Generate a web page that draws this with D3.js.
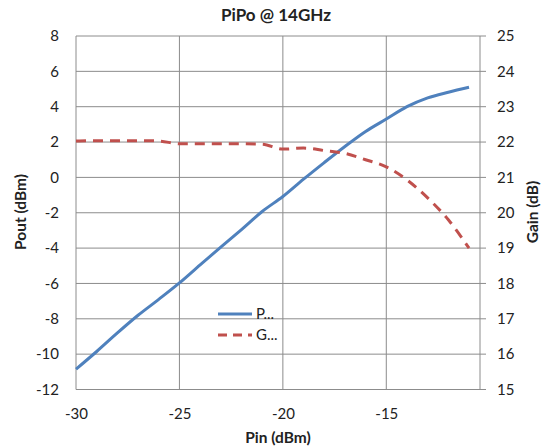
<!DOCTYPE html>
<html>
<head>
<meta charset="utf-8">
<script src="https://cdn.jsdelivr.net/npm/d3@7"></script>
<style>
  body { margin: 0; background: #fff; }
  svg text { font-family: Lato, "Open Sans", sans-serif; fill: #222; }
</style>
</head>
<body>
<svg id="chart" width="549" height="447"></svg>
<script>
// input power sweep (dBm)
const pin = [-30, -29, -28, -27, -26, -25, -24, -23, -22, -21, -20, -19, -18, -17, -16, -15, -14, -13, -12, -11];
const pout = [-10.85, -9.85, -8.8, -7.8, -6.9, -5.97, -4.95, -3.95, -2.95, -1.93, -1.08, -0.1, 0.84, 1.75, 2.6, 3.3, 4.0, 4.5, 4.82, 5.1];
const gain = [22.03, 22.04, 22.04, 22.04, 22.03, 21.95, 21.95, 21.95, 21.95, 21.94, 21.8, 21.83, 21.76, 21.68, 21.5, 21.3, 20.93, 20.42, 19.8, 19.0];

const xTicks = [-30, -25, -20, -15];
const yLeftTicks = [-12, -10, -8, -6, -4, -2, 0, 2, 4, 6, 8];
const yRightTicks = [15, 16, 17, 18, 19, 20, 21, 22, 23, 24, 25];
const legendNames = ['P...', 'G...'];

const mLeft = 76, mRight = 480, mTop = 36, mBottom = 389.5;
const svg = d3.select('#chart');

const x = d3.scaleLinear().domain([-30, -10.47]).range([mLeft, mRight]);
const yL = d3.scaleLinear().domain([-12, 8]).range([mBottom, mTop]);
const yR = d3.scaleLinear().domain([15, 25]).range([mBottom, mTop]);

const gridColor = '#8c8c8c';
const plain = d => String(d); // keep ascii hyphen like the original

// horizontal grid
svg.append('g').selectAll('line')
    .data(yLeftTicks)
    .join('line')
    .attr('x1', mLeft).attr('x2', mRight + 6)
    .attr('y1', d => yL(d)).attr('y2', d => yL(d))
    .attr('stroke', gridColor).attr('stroke-width', 1);

// vertical grid
svg.append('g').selectAll('line')
    .data(xTicks)
    .join('line')
    .attr('x1', d => x(d)).attr('x2', d => x(d))
    .attr('y1', mTop).attr('y2', mBottom)
    .attr('stroke', gridColor).attr('stroke-width', 1);

svg.append('line')
    .attr('x1', mRight).attr('x2', mRight)
    .attr('y1', mTop).attr('y2', mBottom)
    .attr('stroke', gridColor);

// axes (labels only)
const axLeft = svg.append('g')
    .attr('transform', `translate(${mLeft},0)`)
    .call(d3.axisLeft(yL).tickValues(yLeftTicks).tickFormat(plain).tickSize(0).tickPadding(17));
const axRight = svg.append('g')
    .attr('transform', `translate(${mRight},0)`)
    .call(d3.axisRight(yR).tickValues(yRightTicks).tickFormat(plain).tickSize(0).tickPadding(17));
const axBottom = svg.append('g')
    .attr('transform', `translate(0,${mBottom})`)
    .call(d3.axisBottom(x).tickValues(xTicks).tickFormat(plain).tickSize(0).tickPadding(19));

[axLeft, axRight, axBottom].forEach(g => {
    g.select('.domain').remove();
    g.selectAll('text').style('font-size', '15px').attr('fill', '#222');
});

// series
const powerLine = d3.line().x((d, i) => x(pin[i])).y(d => yL(d)).curve(d3.curveMonotoneX);
const gainLine = d3.line().x((d, i) => x(pin[i])).y(d => yR(d)).curve(d3.curveMonotoneX);

svg.append('path')
    .datum(pout)
    .attr('d', powerLine)
    .attr('fill', 'none')
    .attr('stroke', '#4f81bd')
    .attr('stroke-width', 3);

svg.append('path')
    .datum(gain)
    .attr('d', gainLine)
    .attr('fill', 'none')
    .attr('stroke', '#c0504d')
    .attr('stroke-width', 3)
    .attr('stroke-dasharray', '10,7');

// legend
const legend = svg.append('g');
const legendStyles = [
    { color: '#4f81bd', dash: null },
    { color: '#c0504d', dash: '9,6' }
];
legendNames.forEach((name, i) => {
    const ly = 314 + i * 21;
    legend.append('line')
        .attr('x1', 218).attr('x2', 252)
        .attr('y1', ly).attr('y2', ly)
        .attr('stroke', legendStyles[i].color)
        .attr('stroke-width', 3)
        .attr('stroke-dasharray', legendStyles[i].dash);
    legend.append('text')
        .attr('x', 256).attr('y', ly + 5)
        .style('font-size', '15px')
        .text(name);
});

// titles
svg.append('text')
    .attr('x', 276).attr('y', 21)
    .attr('text-anchor', 'middle')
    .style('font-size', '17px').style('font-weight', 'bold')
    .text('PiPo @ 14GHz');

svg.append('text')
    .attr('x', 278).attr('y', 443)
    .attr('text-anchor', 'middle')
    .style('font-size', '15.5px').style('font-weight', 'bold')
    .text('Pin (dBm)');

svg.append('text')
    .attr('transform', 'translate(26,212) rotate(-90)')
    .attr('text-anchor', 'middle')
    .style('font-size', '15.5px').style('font-weight', 'bold')
    .text('Pout (dBm)');

svg.append('text')
    .attr('transform', 'translate(538,212) rotate(-90)')
    .attr('text-anchor', 'middle')
    .style('font-size', '15.5px').style('font-weight', 'bold')
    .text('Gain (dB)');
</script>
</body>
</html>
